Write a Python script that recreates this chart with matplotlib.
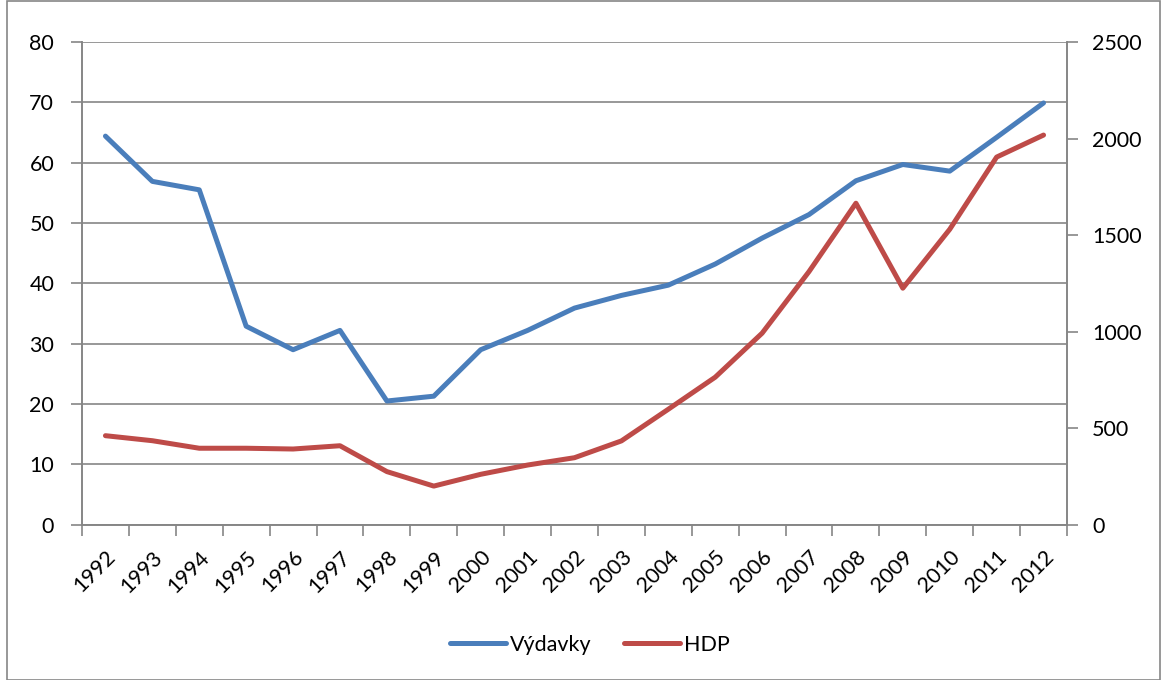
import matplotlib.pyplot as plt
from matplotlib.patches import Rectangle

# data
years = [str(y) for y in range(1992, 2013)]
vydavky = [64.4, 56.9, 55.5, 32.9, 29.0, 32.2, 20.5, 21.3, 29.0, 32.2, 35.9,
           38.0, 39.7, 43.2, 47.5, 51.4, 57.0, 59.7, 58.6, 64.2, 69.9]
hdp = [461, 435, 396, 396, 392, 409, 275, 200, 261, 309, 347,
       434, 598, 764, 992, 1311, 1665, 1225, 1530, 1904, 2018]

left_ticks = [0, 10, 20, 30, 40, 50, 60, 70, 80]
right_ticks = [0, 500, 1000, 1500, 2000, 2500]

BLUE = '#4A7EBB'
RED = '#BE4B48'
GRAY = '#868686'
FS = 15.5

plt.rcParams['font.family'] = ['Lato', 'DejaVu Sans']

W, H = 1161, 680
fig = plt.figure(figsize=(W / 100, H / 100), dpi=100)
ax = fig.add_axes([82 / W, 1 - 524.7 / H, (1067 - 82) / W, (524.7 - 42) / H])
ax2 = ax.twinx()

x = list(range(len(years)))
l1, = ax.plot(x, vydavky, color=BLUE, lw=3.6, solid_capstyle='round', solid_joinstyle='round', label='Výdavky')
l2, = ax2.plot(x, hdp, color=RED, lw=3.6, solid_capstyle='round', solid_joinstyle='round', label='HDP')

ax.set_xlim(-0.5, len(years) - 0.5)
ax.set_ylim(0, 80)
ax2.set_ylim(0, 2500)
ax.set_yticks(left_ticks)
ax2.set_yticks(right_ticks)

# gridlines follow the left axis
ax.grid(axis='y', color=GRAY, lw=1.2)
ax.set_axisbelow(True)

# category ticks sit between the categories, labels in the middle
ax.set_xticks([i - 0.5 for i in range(len(years) + 1)])
ax.set_xticklabels([])
ax.set_xticks(x, minor=True)
ax.set_xticklabels(years, minor=True, rotation=45, ha='right', va='top',
                   rotation_mode='anchor', fontsize=FS)
ax.tick_params(axis='x', which='minor', length=0, pad=16)
ax.tick_params(axis='x', which='major', length=8, width=1.2, color=GRAY, direction='out')
ax.tick_params(axis='y', length=8, width=1.2, color=GRAY, labelsize=FS, pad=12)
ax2.tick_params(axis='y', length=8, width=1.2, color=GRAY, labelsize=FS, pad=10)

for a in (ax, ax2):
    a.spines['top'].set_visible(False)
    for side in ('left', 'right', 'bottom'):
        a.spines[side].set_color(GRAY)
        a.spines[side].set_linewidth(1.2)

fig.legend(handles=[l1, l2], loc='center', bbox_to_anchor=(590 / W, 1 - 645 / H),
           ncol=2, frameon=False, fontsize=FS, handlelength=2.6,
           columnspacing=1.5, handletextpad=0.2)

# chart area border
fig.patches.append(Rectangle((7 / W, 0), 1 - 8 / W, 1 - 1 / H, transform=fig.transFigure,
                             fill=False, edgecolor=GRAY, lw=1.2))

fig.savefig('out.png', dpi=100)
